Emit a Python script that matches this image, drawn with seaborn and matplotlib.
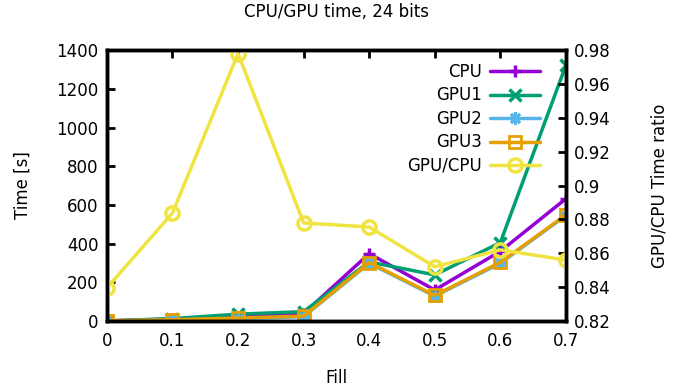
import numpy as np
import pandas as pd
import matplotlib
matplotlib.use("Agg")
import matplotlib.pyplot as plt
import seaborn as sns

# ── Data ──────────────────────────────────────────────────
fill    = [0.0, 0.1, 0.2, 0.3, 0.4, 0.5, 0.6, 0.7]
cpu     = [0, 10, 22, 38, 348, 160, 360, 632]
gpu1    = [0, 12, 35, 48, 305, 238, 405, 1322]
gpu2    = [0, 5, 12, 22, 298, 128, 298, 545]
gpu3    = [0, 6, 15, 25, 302, 132, 303, 548]
ratio   = [0.8395, 0.8838, 0.978, 0.8779, 0.8755, 0.852, 0.862, 0.856]

PURPLE = "#9400D3"
GREEN  = "#009E73"
BLUE   = "#56B4E9"
ORANGE = "#E69F00"
YELLOW = "#F0E442"
FS = 12

sns.set_style("white")
plt.rcParams["font.family"] = ["DejaVu Sans"]
plt.rcParams.update({"text.color": "black", "axes.labelcolor": "black",
                     "xtick.color": "black", "ytick.color": "black"})

fig = plt.figure(figsize=(6.81, 3.89), dpi=100)
ax = fig.add_axes([0.157, 0.175, 0.674, 0.696])
ax2 = ax.twinx()

df = pd.DataFrame({"fill": fill, "CPU": cpu, "GPU1": gpu1,
                   "GPU2": gpu2, "GPU3": gpu3, "GPU/CPU": ratio})

series = [
    ("CPU",  PURPLE, "+", dict(markersize=9, markeredgewidth=2.5)),
    ("GPU1", GREEN,  "x", dict(markersize=8, markeredgewidth=2.5)),
    ("GPU2", BLUE,   (8, 2, 0), dict(markersize=9, markeredgewidth=2.0)),
    ("GPU3", ORANGE, "s", dict(markersize=9, markeredgewidth=2.0, markerfacecolor="none")),
]
for name, color, mk, kw in series:
    sns.lineplot(data=df, x="fill", y=name, ax=ax, color=color, marker=mk,
                 linewidth=2.5, markeredgecolor=color, label=name, **kw)

sns.lineplot(data=df, x="fill", y="GPU/CPU", ax=ax2, color=YELLOW, marker="o",
             linewidth=2.5, markersize=9.5, markeredgewidth=2.5,
             markerfacecolor="none", markeredgecolor=YELLOW, label="GPU/CPU")

ax.set_xlim(0, 0.7)
ax.set_ylim(0, 1400)
ax2.set_ylim(0.82, 0.98)
ax.set_xticks(fill)
ax.set_xticklabels(["0", "0.1", "0.2", "0.3", "0.4", "0.5", "0.6", "0.7"])
ax.set_yticks(np.arange(0, 1401, 200))
ax2.set_yticks(np.arange(0.82, 0.981, 0.02))
ax2.set_yticklabels(["0.82", "0.84", "0.86", "0.88", "0.9", "0.92", "0.94", "0.96", "0.98"])

ax.set_xlabel("Fill", fontsize=FS, labelpad=14)
ax.set_ylabel("Time [s]", fontsize=FS, labelpad=18)
ax2.set_ylabel("GPU/CPU Time ratio", fontsize=FS, labelpad=28)
ax.set_title("CPU/GPU time, 24 bits", fontsize=FS, pad=24)

for a in (ax, ax2):
    for s in a.spines.values():
        s.set_linewidth(2.5)
        s.set_color("black")
ax.tick_params(axis="x", direction="in", length=6, width=2, top=True,
               labelsize=FS, pad=8)
ax.tick_params(axis="y", direction="in", length=6, width=2, labelsize=FS, pad=6)
ax2.tick_params(axis="y", direction="in", length=6, width=2, labelsize=FS, pad=6)

h1, l1 = ax.get_legend_handles_labels()
h2, l2 = ax2.get_legend_handles_labels()
ax.get_legend().remove()
ax2.legend(h1 + h2, l1 + l2, loc="upper right", bbox_to_anchor=(0.965, 0.99),
           frameon=False, markerfirst=False, fontsize=FS, handlelength=3.0,
           labelspacing=0.33, handletextpad=0.5, borderaxespad=0.2)

plt.savefig("out.png", dpi=100)
plt.close()
